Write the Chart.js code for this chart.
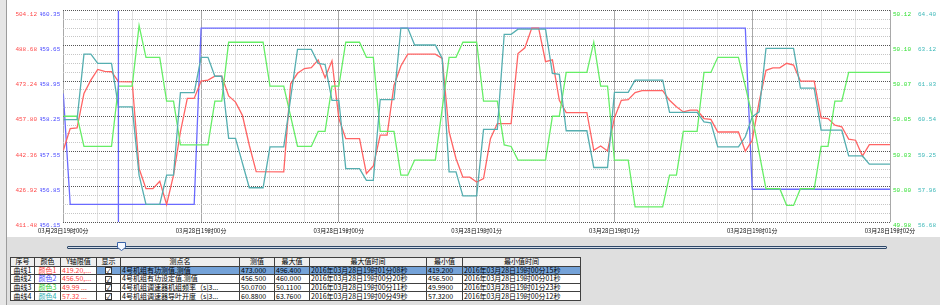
<!DOCTYPE html>
<html>
<head>
<meta charset="utf-8">
<script src="https://cdn.jsdelivr.net/npm/chart.js@4.4.0/dist/chart.umd.min.js"></script>
<style>
body{margin:0;width:940px;height:305px;overflow:hidden;background:#fff;position:relative;font-family:"Noto Sans CJK SC",sans-serif}
#chart{position:absolute;left:0;top:0}
#edge{position:absolute;left:0;top:0;width:6px;height:305px;background:#e6e6e6;border-right:1px solid #9c9c9c}
#panel{position:absolute;left:0;top:237px;width:940px;height:68px;background:#dfdfdf}
#track{position:absolute;left:67px;top:9px;width:818px;height:1px;border:1px solid #2e4868;background:#d4dce8;border-radius:1px}
#thumb{position:absolute;left:117px;top:5px}
#tbl{position:absolute;left:10px;top:19.5px;border-collapse:collapse;table-layout:fixed;font-size:7px;line-height:7px}
#tbl td,#tbl th{border:1px solid #404040;padding:0 1px;height:7px;white-space:nowrap;overflow:hidden;background:#fff;font-weight:normal;color:#000}
#tbl th{height:8px;background:#efefef;text-align:center}
#tbl td.c{text-align:center}
#tbl tr.sel td.hl{background:#74a2d8}
.box{display:inline-block;width:5px;height:5px;border:1px solid #333;background:#fff;font-size:6px;line-height:5px;text-align:center;vertical-align:middle}
</style>
</head>
<body>
<canvas id="chart" width="940" height="236"></canvas>
<div id="panel">
  <div id="track"></div>
  <svg id="thumb" width="10" height="10"><path d="M0.5 0.5 H8.5 V5.5 L4.5 8.5 L0.5 5.5 Z" fill="#f4f8ff" stroke="#3b64a8"/></svg>
  <table id="tbl"></table>
</div>
<div id="edge"></div>
<script>
// x axis: seconds from 19:00:00, ticks every 20 s
const xTickLabels = ['03月28日19时00分', '03月28日19时00分', '03月28日19时00分', '03月28日19时01分', '03月28日19时01分', '03月28日19时01分', '03月28日19时02分'];
const redTicks = ['411.48', '426.92', '442.36', '457.80', '473.24', '488.68', '504.12'];
const blueTicks = ['456.15', '456.85', '457.55', '458.25', '458.95', '459.65', '460.35'];
const greenTicks = ['49.98', '50.00', '50.03', '50.05', '50.07', '50.10', '50.12'];
const cyanTicks = ['56.68', '57.96', '59.25', '60.54', '61.83', '63.12', '64.40'];

// [second, value]
const activePower = [[0,442.9],[1,452.4],[2,452.7],[3,467.8],[4,473.6],[5,478.3],[6,477.5],[7,477.3],[8,473.0],[10,472.9],
  [11,434.9],[12,426.1],[13,426.1],[14,429.3],[15,419.2],[16,432.0],[17,451.0],[18,465.6],[19,465.6],[20,473.2],
  [21,473.6],[22,475.4],[23,475.4],[24,466.7],[25,464.0],[26,458.2],[27,445.1],[28,433.5],[32,433.4],[33,472.0],
  [34,476.6],[35,478.7],[36,479.1],[37,482.5],[38,474.7],[39,482.1],[40,456.8],[41,448.0],[43,448.0],[44,432.7],
  [45,436.0],[46,449.5],[47,449.5],[48,471.3],[49,479.8],[50,485.0],[54,485.0],[55,483.1],[56,451.0],[57,439.3],
  [58,431.1],[59,431.1],[60,429.0],[61,430.5],[62,448.0],[63,454.6],[65,454.6],[66,485.3],[67,487.8],[68,496.4],
  [69,496.4],[70,481.7],[71,482.5],[72,464.8],[73,459.4],[76,459.4],[77,442.9],[78,444.8],[79,442.6],[80,457.1],
  [81,464.8],[82,465.1],[83,468.2],[84,469.0],[87,469.0],[88,464.8],[89,462.0],[90,459.7],[91,460.5],[92,460.5],
  [93,456.8],[94,456.4],[95,450.9],[98,450.9],[99,442.5],[100,447.3],[101,464.1],[102,477.9],[103,479.0],[104,479.0],
  [105,481.0],[106,480.2],[107,473.2],[109,473.2],[110,457.1],[111,456.8],[112,453.9],[113,453.2],[114,447.8],[115,447.3],
  [116,440.4],[117,445.4],[120,445.4]];
const powerSetpoint = [[0,458.7],[1,456.5],[19,456.5],[20,460.0],[99,460.0],[100,456.8],[120,456.8]];
const frequency = [[0,50.050],[2,50.050],[3,50.030],[7,50.030],[8,50.070],[10,50.070],[11,50.110],[12,50.089],[14,50.089],[15,50.060],
  [16,50.060],[17,50.031],[21,50.031],[22,50.060],[23,50.060],[24,50.099],[29,50.099],[30,50.070],[32,50.070],[34,50.030],
  [36,50.030],[37,50.040],[38,50.040],[39,50.070],[40,50.070],[41,50.099],[43,50.099],[44,50.089],[45,50.089],[46,50.040],
  [48,50.040],[49,50.011],[50,50.011],[51,50.021],[54,50.021],[56,50.089],[57,50.089],[58,50.099],[60,50.099],[61,50.060],
  [63,50.060],[64,50.031],[65,50.030],[66,50.021],[70,50.021],[71,50.050],[72,50.050],[73,50.079],[76,50.079],[77,50.099],
  [78,50.070],[79,50.070],[80,50.021],[82,50.021],[83,49.990],[87,49.990],[88,50.011],[89,50.011],[90,50.040],[92,50.040],
  [93,50.079],[94,50.079],[95,50.089],[98,50.089],[99,50.070],[100,50.050],[102,50.002],[104,50.002],[105,49.991],[106,49.991],
  [107,50.002],[109,50.002],[110,50.030],[111,50.030],[112,50.060],[113,50.060],[114,50.079],[120,50.079]];
const guideVane = [[0,60.42],[2,60.42],[3,62.81],[4,62.81],[5,62.47],[7,62.47],[8,60.88],[10,60.88],[11,58.39],[12,57.32],
  [14,57.32],[15,58.39],[16,58.39],[17,61.40],[19,61.40],[20,62.69],[21,62.69],[22,62.00],[23,62.00],[24,59.73],
  [25,59.73],[27,57.93],[29,57.93],[30,59.42],[32,59.42],[34,62.98],[36,62.98],[37,62.47],[38,62.43],[39,61.12],
  [40,61.12],[41,58.63],[43,58.63],[44,58.20],[45,58.20],[46,61.15],[48,61.15],[49,63.76],[50,63.76],[51,63.14],
  [54,63.14],[55,62.65],[56,58.51],[57,58.51],[58,57.63],[60,57.63],[61,60.06],[63,60.06],[64,63.53],[65,63.53],
  [66,63.72],[70,63.72],[71,62.10],[72,62.07],[73,60.01],[76,60.01],[77,58.67],[79,58.67],[80,61.41],[82,61.41],
  [83,61.86],[87,61.86],[88,60.68],[92,60.68],[93,60.33],[94,60.30],[95,59.42],[98,59.42],[99,59.79],[100,60.52],
  [101,60.70],[102,63.02],[106,63.02],[107,61.57],[109,61.57],[110,60.03],[113,60.03],[114,59.09],[116,59.09],[117,58.79],
  [120,58.79]];
const cursorTime = 8;

// table
const curveNames = ['曲线1', '曲线2', '曲线3', '曲线4'];
const colorNames = ['颜色1', '颜色2', '颜色3', '颜色4'];
const curveColors = ['#ff3c3c', '#4b4bff', '#2fd12f', '#2fb0b0'];
const limitTexts = ['419.20,...', '456.50,...', '49.99 ...', '57.32 ...'];
const pointNames = ['4号机组有功测值.测值', '4号机组有功设定值.测值', '4号机组调速器机组频率（s]3...', '4号机组调速器导叶开度（s]3...'];
const currentValues = ['473.000', '456.500', '50.0700', '60.8800'];
const maxValues = ['496.400', '460.000', '50.1100', '63.7600'];
const maxTimes = ['2016年03月28日19时01分08秒', '2016年03月28日19时00分20秒', '2016年03月28日19时00分11秒', '2016年03月28日19时00分49秒'];
const minValues = ['419.200', '456.500', '49.9900', '57.3200'];
const minTimes = ['2016年03月28日19时00分15秒', '2016年03月28日19时00分01秒', '2016年03月28日19时01分23秒', '2016年03月28日19时00分12秒'];
const headers = ['序号', '颜色', 'Y轴限值', '显示', '测点名', '测值', '最大值', '最大值时间', '最小值', '最小值时间'];
const colWidths = [22, 24, 34, 22, 117, 33, 33, 115, 34, 116];

let html = '<colgroup>' + colWidths.map(w => '<col style="width:' + (w + 2) + 'px">').join('') + '</colgroup>';
html += '<tr>' + headers.map(h => '<th>' + h + '</th>').join('') + '</tr>';
curveNames.forEach((name, i) => {
  html += '<tr' + (i === 0 ? ' class="sel"' : '') + '>' +
    '<td class="c">' + name + '</td>' +
    '<td class="c" style="color:' + curveColors[i] + '">' + colorNames[i] + '</td>' +
    '<td style="color:#ff3c3c">' + limitTexts[i] + '</td>' +
    '<td class="c hl"><span class="box">✓</span></td>' +
    '<td class="hl">' + pointNames[i] + '</td>' +
    '<td class="hl">' + currentValues[i] + '</td>' +
    '<td class="hl">' + maxValues[i] + '</td>' +
    '<td class="hl">' + maxTimes[i] + '</td>' +
    '<td class="hl">' + minValues[i] + '</td>' +
    '<td class="hl">' + minTimes[i] + '</td></tr>';
});
document.getElementById('tbl').innerHTML = html;

const toXY = arr => arr.map(([x, y]) => ({ x, y }));
const gridColor = ctx => ctx.index % 4 === 0 ? '#555555' : '#c6c6c6';
const tickFont = { family: 'Liberation Mono', size: 6 };

function sideAxis(ticks, position, weight, color, width, withGrid) {
  return {
    position, weight,
    min: Number(ticks[0]), max: Number(ticks[ticks.length - 1]),
    ticks: {
      count: withGrid ? 25 : ticks.length, autoSkip: false, padding: 3, color, font: tickFont,
      callback: (v, i) => {
        if (withGrid) return i % 4 === 0 ? ['', ticks[i / 4]] : '';
        return ['', ticks[i]];
      }
    },
    grid: { display: withGrid, color: gridColor, drawTicks: false },
    border: { display: false, dash: [1, 1] },
    afterFit: s => { s.width = width; }
  };
}

new Chart(document.getElementById('chart'), {
  type: 'line',
  data: {
    datasets: [
      { data: [{ x: cursorTime, y: Number(redTicks[0]) }, { x: cursorTime, y: Number(redTicks[6]) }], yAxisID: 'yRed', borderColor: '#6a6aff', borderWidth: 1.3 },
      { data: toXY(guideVane), yAxisID: 'yCyan', borderColor: '#55aeb0', borderWidth: 1.3 },
      { data: toXY(frequency), yAxisID: 'yGreen', borderColor: '#66ee66', borderWidth: 1.3 },
      { data: toXY(activePower), yAxisID: 'yRed', borderColor: '#ff6464', borderWidth: 1.3 },
      { data: toXY(powerSetpoint), yAxisID: 'yBlue', borderColor: '#6a6aff', borderWidth: 1.3 }
    ]
  },
  options: {
    responsive: false,
    animation: false,
    layout: { padding: { top: 10.5, left: 0, right: 0, bottom: 0 } },
    elements: { point: { radius: 0 }, line: { tension: 0 } },
    plugins: { legend: { display: false }, tooltip: { enabled: false } },
    scales: {
      x: {
        type: 'linear', min: 0, max: 120,
        ticks: {
          count: 25, autoSkip: false, maxRotation: 0, padding: 5, color: '#111',
          font: { family: 'Noto Sans CJK SC', size: 6 },
          callback: (v, i) => i % 4 === 0 ? xTickLabels[i / 4] : ''
        },
        grid: { color: gridColor, drawTicks: false },
        border: { display: false, dash: [1, 1] },
        afterFit: s => { s.height = 14; }
      },
      yRed: sideAxis(redTicks, 'left', 2, '#ff4a4a', 40, true),
      yBlue: sideAxis(blueTicks, 'left', 1, '#4a4aff', 23.3, false),
      yGreen: sideAxis(greenTicks, 'right', 1, '#33e033', 25, false),
      yCyan: sideAxis(cyanTicks, 'right', 2, '#3cb8b8', 25, false)
    }
  }
});
</script>
</body>
</html>
